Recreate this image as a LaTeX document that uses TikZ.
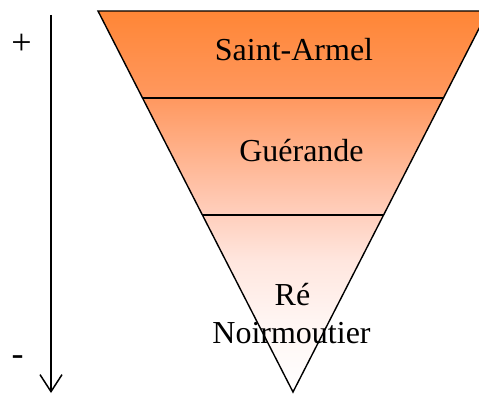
\documentclass[tikz,border=0pt]{standalone}
\usepackage{fontspec}
\setmainfont{Liberation Serif}
\usetikzlibrary{arrows.meta}
\pgfdeclareverticalshading{trishade}{100bp}{%
  color(0bp)=(white);
  color(25bp)=(white);
  color(34.4bp)=(rgb,255:red,255;green,245;blue,242);
  color(42.3bp)=(rgb,255:red,255;green,230;blue,222);
  color(50.2bp)=(rgb,255:red,255;green,200;blue,178);
  color(63.6bp)=(rgb,255:red,255;green,152;blue,95);
  color(75bp)=(rgb,255:red,255;green,134;blue,54);
  color(100bp)=(rgb,255:red,255;green,134;blue,54)}
\begin{document}
\begin{tikzpicture}[x=1pt,y=1pt,
  lbl/.style={inner sep=0pt,anchor=base,font=\fontsize{32}{38}\selectfont},
  sign/.style={inner sep=0pt,font=\fontsize{36}{42}\selectfont},
  edge/.style={line width=1.4pt,line join=miter},
  sep/.style={line width=1.2pt}]
\useasboundingbox (0,0) rectangle (479,394);
\begin{scope}
\clip (0,0) rectangle (479,394);
\coordinate (tl) at (98,383);
\coordinate (tr) at (488,383);
\coordinate (ap) at (293,2);
\shade[shading=trishade] (tl) -- (tr) -- (ap) -- cycle;
\draw[edge] (tl) -- (tr) -- (ap) -- cycle;
\coordinate (a1) at (142.5,296);
\coordinate (b1) at (443.5,296);
\coordinate (a2) at (202.4,179);
\coordinate (b2) at (383.6,179);
\draw[sep] (a1) -- (b1);
\draw[sep] (a2) -- (b2);
\end{scope}
\node[lbl] (sa) at (294,333) {Saint-Armel};
\node[lbl] (gu) at (301.5,232) {Guérande};
\node[lbl] (re) at (292.5,89) {Ré};
\node[lbl] (no) at (291.5,51) {Noirmoutier};
\coordinate (ar0) at (51,379);
\coordinate (ar1) at (51,1);
\draw[line width=1.5pt,-{Straight Barb[length=17pt,width=22pt]}] (ar0) -- (ar1);
\node[sign] (plus) at (21.5,349.5) {+};
\node[sign] (minus) at (17.5,33) {-};
\end{tikzpicture}
\end{document}
